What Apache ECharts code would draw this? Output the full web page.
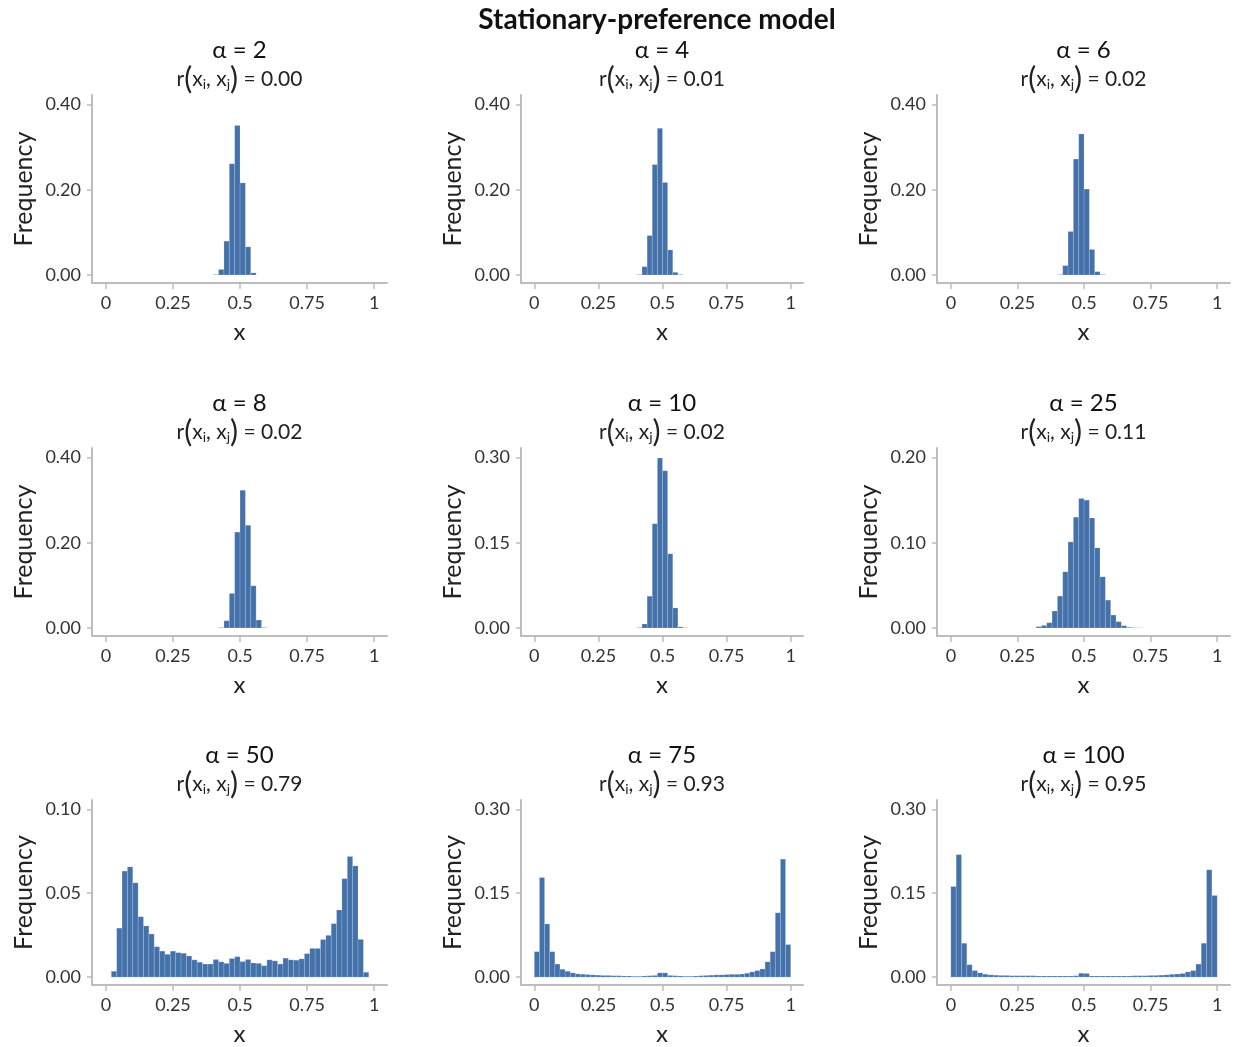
<!DOCTYPE html>
<html><head><meta charset="utf-8">
<script src="https://cdn.jsdelivr.net/npm/echarts@6/dist/echarts.min.js"></script>
<style>html,body{margin:0;padding:0;background:#fff}#c{width:1235px;height:1047px}</style>
</head><body><div id="c"></div>
<script>
// ---------- data ----------
const BIN = 0.02;                         // histogram bin width
const alphas = [2, 4, 6, 8, 10, 25, 50, 75, 100];
const correlations = ['0.00', '0.01', '0.02', '0.02', '0.02', '0.11', '0.79', '0.93', '0.95'];
const yTopTick = [0.40, 0.40, 0.40, 0.40, 0.30, 0.20, 0.10, 0.30, 0.30];
const xTicks = [0, 0.25, 0.5, 0.75, 1];
const xTickLabels = ['0', '0.25', '0.5', '0.75', '1'];

// each panel: index of first bin (bin k covers [k*BIN, (k+1)*BIN]) and frequencies
const firstBinA2 = 20;
const freqA2 = [0.001, 0.013, 0.0795, 0.261, 0.351, 0.216, 0.066, 0.005];
const firstBinA4 = 20;
const freqA4 = [0.001, 0.0196, 0.0925, 0.259, 0.344, 0.217, 0.0588, 0.0063, 0.001];
const firstBinA6 = 20;
const freqA6 = [0.001, 0.022, 0.102, 0.272, 0.331, 0.2016, 0.060, 0.0078, 0.001];
const firstBinA8 = 21;
const freqA8 = [0.001, 0.017, 0.081, 0.225, 0.323, 0.241, 0.099, 0.0187, 0.001];
const firstBinA10 = 20;
const freqA10 = [0.0008, 0.007, 0.056, 0.1835, 0.299, 0.2765, 0.1306, 0.0353, 0.0018, 0.0005];
const firstBinA25 = 16;
const freqA25 = [0.0016, 0.003, 0.0062, 0.0199, 0.0374, 0.0659, 0.101, 0.130, 0.152, 0.150,
                 0.129, 0.094, 0.060, 0.0327, 0.0152, 0.0074, 0.0027, 0.0008, 0.0003, 0.0002];
const firstBinA50 = 1;
const freqA50 = [0.0035, 0.0292, 0.0632, 0.0657, 0.0562, 0.036, 0.0305, 0.0257, 0.0181, 0.0155,
                 0.0136, 0.0155, 0.0146, 0.0142, 0.0126, 0.0103, 0.0089, 0.0078, 0.0078, 0.0105,
                 0.0091, 0.0082, 0.0111, 0.0122, 0.0093, 0.0105, 0.0084, 0.0082, 0.0068, 0.0103,
                 0.0097, 0.0078, 0.0113, 0.0103, 0.0101, 0.0109, 0.014, 0.0171, 0.0171, 0.0224,
                 0.0249, 0.0319, 0.040, 0.0587, 0.0719, 0.0663, 0.0225, 0.0029];
const firstBinA75 = 0;
const freqA75 = [0.0455, 0.178, 0.095, 0.0455, 0.0233, 0.014, 0.0105, 0.0076, 0.0058, 0.0052,
                 0.0045, 0.004, 0.0035, 0.003, 0.003, 0.0025, 0.0025, 0.002, 0.002, 0.0015,
                 0.0015, 0.002, 0.0025, 0.003, 0.0076, 0.0076, 0.003, 0.0025, 0.002, 0.0015,
                 0.0015, 0.002, 0.0025, 0.003, 0.0035, 0.004, 0.004, 0.0045, 0.005, 0.005,
                 0.0055, 0.007, 0.0093, 0.0117, 0.0146, 0.0274, 0.0455, 0.115, 0.211, 0.0583];
const firstBinA100 = 0;
const freqA100 = [0.162, 0.219, 0.0606, 0.0222, 0.0117, 0.0076, 0.0052, 0.004, 0.0035, 0.003,
                  0.003, 0.0025, 0.0025, 0.0025, 0.0025, 0.0025, 0.002, 0.002, 0.002, 0.002,
                  0.002, 0.002, 0.002, 0.0025, 0.007, 0.0065, 0.002, 0.002, 0.002, 0.002,
                  0.002, 0.002, 0.002, 0.002, 0.0025, 0.0025, 0.0025, 0.003, 0.003, 0.0035,
                  0.004, 0.005, 0.0055, 0.0065, 0.0093, 0.0117, 0.0233, 0.0606, 0.192, 0.146];

const panelFirstBin = [firstBinA2, firstBinA4, firstBinA6, firstBinA8, firstBinA10, firstBinA25, firstBinA50, firstBinA75, firstBinA100];
const panelFreq = [freqA2, freqA4, freqA6, freqA8, freqA10, freqA25, freqA50, freqA75, freqA100];

// ---------- layout & style ----------
const FONT = 'Lato, "Noto Sans", sans-serif';
const BAR = '#4471a9';
const AXIS = '#bdbdbd';
const colLeft = [92, 521, 937];
const colWidth = [295, 282, 293];
const rowTop = [95, 448, 800];
const plotH = 188;

function toRows(first, freq) {
  return freq.map((v, i) => {
    const k = first + i;
    return [+(k * BIN).toFixed(4), +((k + 1) * BIN).toFixed(4), v];
  });
}

const grids = [], xAxes = [], yAxes = [], series = [], graphics = [];
for (let p = 0; p < 9; p++) {
  const r = Math.floor(p / 3), c = p % 3;
  const top = yTopTick[p];
  grids.push({left: colLeft[c], top: rowTop[r], width: colWidth[c], height: plotH, containLabel: false});
  xAxes.push({
    type: 'value', gridIndex: p, min: -0.052, max: 1.048,
    splitLine: {show: false},
    axisLine: {show: true, onZero: false, lineStyle: {color: AXIS, width: 2}},
    axisTick: {show: true, length: 6, customValues: xTicks, lineStyle: {color: AXIS, width: 1.5}},
    axisLabel: {customValues: xTicks, margin: 11, fontSize: 18, color: '#333', fontFamily: FONT,
      formatter: v => xTickLabels[xTicks.indexOf(+v.toFixed(2))] ?? ''},
    name: 'x', nameLocation: 'middle', nameGap: 37,
    nameTextStyle: {fontSize: 24, color: '#222', fontFamily: FONT}
  });
  const yVals = [0, top / 2, top];
  yAxes.push({
    type: 'value', gridIndex: p, min: -0.047 * top, max: 1.0557 * top,
    splitLine: {show: false},
    axisLine: {show: true, onZero: false, lineStyle: {color: AXIS, width: 2}},
    axisTick: {show: true, length: 5, customValues: yVals, lineStyle: {color: AXIS, width: 1.5}},
    axisLabel: {customValues: yVals, margin: 11, fontSize: 18, color: '#333', fontFamily: FONT,
      formatter: v => v.toFixed(2)},
    name: 'Frequency', nameLocation: 'middle', nameGap: 56, nameRotate: 90,
    nameTextStyle: {fontSize: 25, color: '#222', fontFamily: FONT}
  });
  series.push({
    type: 'custom', xAxisIndex: p, yAxisIndex: p,
    data: toRows(panelFirstBin[p], panelFreq[p]),
    encode: {x: [0, 1], y: 2},
    renderItem: (params, api) => {
      const a = api.coord([api.value(0), api.value(2)]);
      const b = api.coord([api.value(1), 0]);
      return {type: 'rect', shape: {x: a[0], y: a[1], width: b[0] - a[0], height: b[1] - a[1]},
        style: {fill: BAR, stroke: 'rgba(255,255,255,0.28)', lineWidth: 0.6}};
    }
  });
  const cx = colLeft[c] + colWidth[c] / 2;
  graphics.push({type: 'text', x: cx, y: rowTop[r] - 45, style: {
    text: 'α = ' + alphas[p], align: 'center', verticalAlign: 'middle',
    fontSize: 24, fontFamily: FONT, fill: '#111'}});
  graphics.push({type: 'text', x: cx, y: rowTop[r] - 16, style: {
    text: 'r{p|(}x{s|i}, x{s|j}{p|)} = ' + correlations[p], align: 'center', verticalAlign: 'middle',
    fontSize: 21, fontFamily: FONT, fill: '#222',
    rich: {p: {fontSize: 30, fontFamily: FONT, fill: '#222'},
           s: {fontSize: 14, fontFamily: FONT, fill: '#222', padding: [11, 0, 0, 0]}}}});
}
graphics.push({type: 'text', x: 657, y: 20, style: {
  text: 'Stationary-preference model', align: 'center', verticalAlign: 'middle',
  fontSize: 28, fontWeight: 'bold', fontFamily: FONT, fill: '#111'}});

const chart = echarts.init(document.getElementById('c'));
chart.setOption({
  animation: false,
  backgroundColor: '#fff',
  grid: grids, xAxis: xAxes, yAxis: yAxes, series: series, graphic: graphics
});
</script>
</body></html>
